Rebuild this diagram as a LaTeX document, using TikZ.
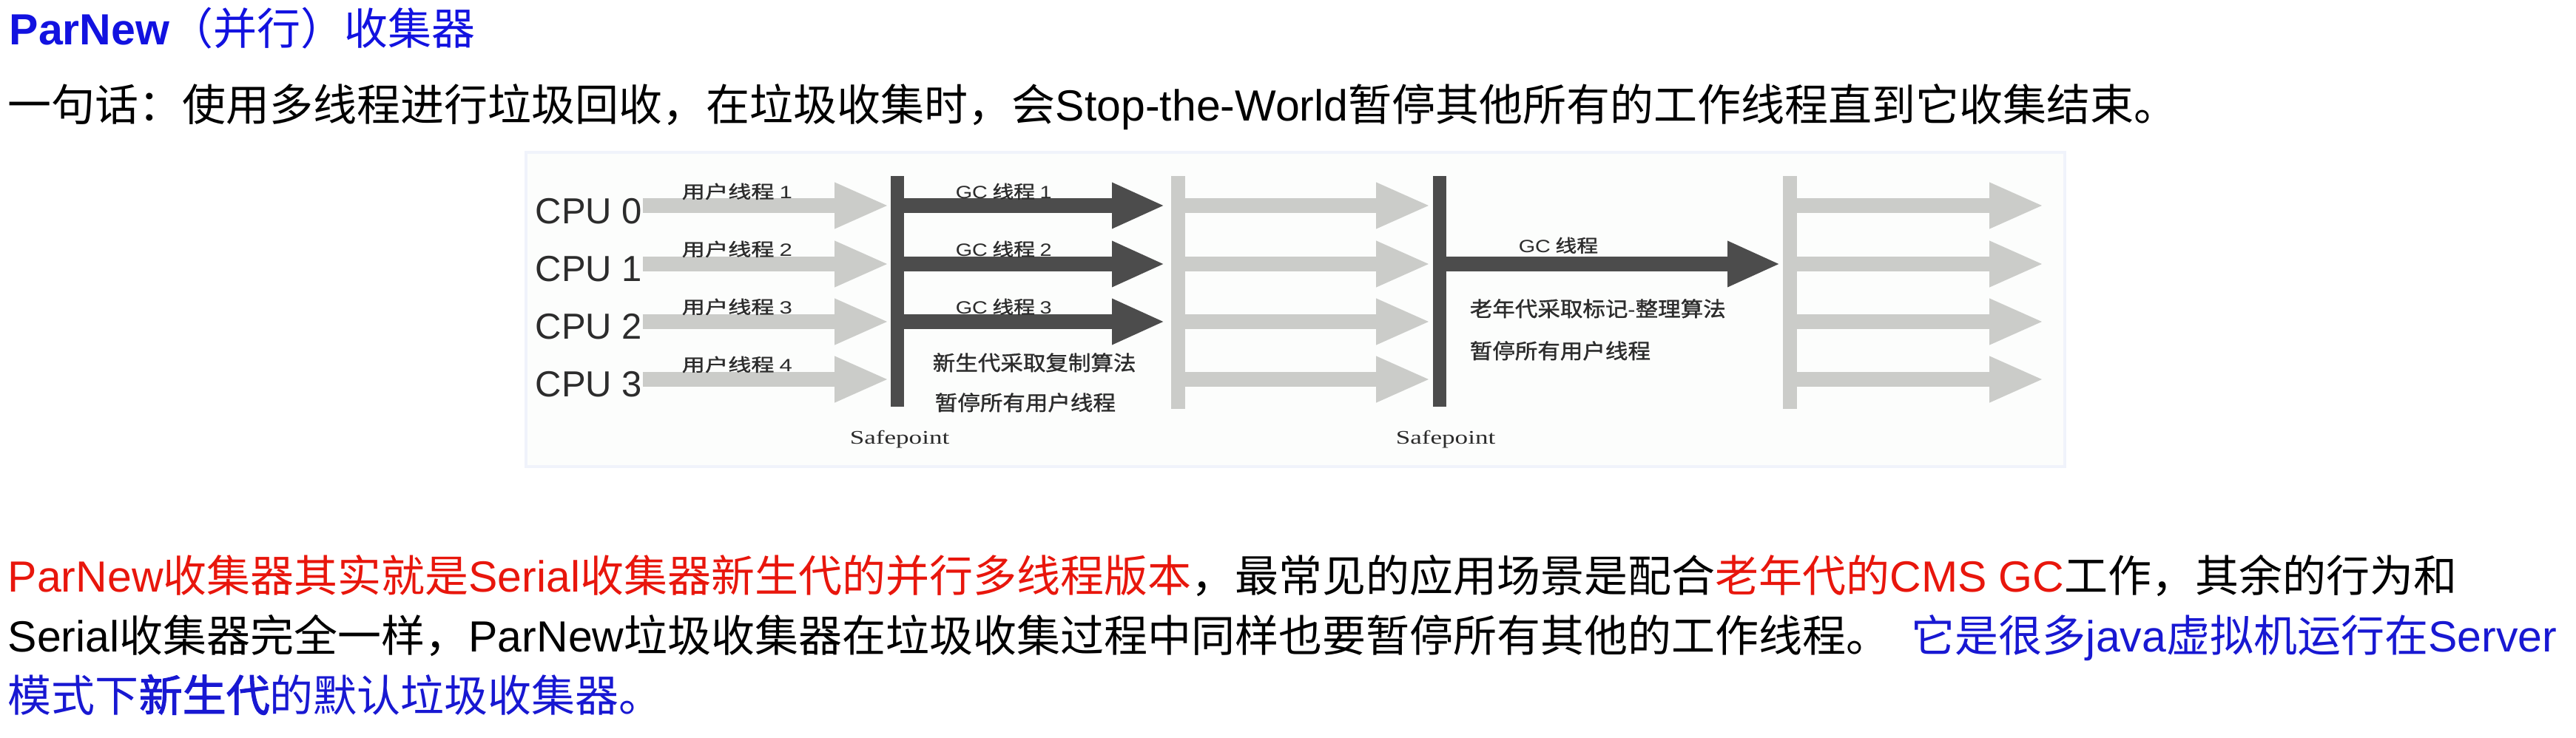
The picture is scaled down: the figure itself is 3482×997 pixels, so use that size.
\documentclass[tikz,border=0pt]{standalone}
\usepackage{fontspec}
\setmainfont{Noto Sans CJK SC}[AutoFakeBold=2]
\newfontfamily\cjkb{Noto Sans CJK SC}[FakeBold=1.2]
\newfontfamily\lat{Liberation Sans}
\newfontfamily\latser{Liberation Serif}
\usetikzlibrary{arrows.meta}
\definecolor{tblue}{RGB}{18,18,224}
\definecolor{pblue}{RGB}{24,24,210}
\definecolor{pred}{RGB}{232,22,12}
\definecolor{lgray}{RGB}{203,204,201}
\definecolor{dgray}{RGB}{76,76,76}
\definecolor{ink}{RGB}{44,44,44}
\definecolor{panelbg}{RGB}{252,253,252}
\definecolor{panelbd}{RGB}{240,243,251}
\newcommand\wider[2]{\scalebox{#1}[1]{#2}}
\tikzset{
  txt/.style={anchor=base west, inner sep=0pt, font=\fontsize{14.75pt}{17pt}\selectfont},
  cpulabel/.style={anchor=base west, inner sep=0pt, font=\lat\fontsize{12.25pt}{14pt}\selectfont, text=ink},
  thrlabel/.style={anchor=base west, inner sep=0pt, font=\cjkb\fontsize{6pt}{7pt}\selectfont, text=ink},
  notelabel/.style={anchor=base west, inner sep=0pt, font=\cjkb\fontsize{7pt}{8pt}\selectfont, text=ink},
  sflabel/.style={anchor=base west, inner sep=0pt, font=\latser\fontsize{6.5pt}{7pt}\selectfont, text=ink},
  darkbar/.style={fill=dgray, draw=none, minimum width=4.5pt, minimum height=78pt, inner sep=0pt},
  lightbar/.style={fill=lgray, draw=none, minimum width=4.75pt, minimum height=78.75pt, inner sep=0pt},
  larrow/.style={draw=lgray, line width=5pt, -{Triangle[length=18.5pt,width=14.25pt]}},
  darrow/.style={draw=dgray, line width=5pt, -{Triangle[length=18pt,width=14.25pt]}},
}
\begin{document}
\begin{tikzpicture}[x=0.25pt,y=-0.25pt]
\useasboundingbox (0,0) rectangle (3482,997);
\fill[white] (0,0) rectangle (3482,997);

% texts above
\node[txt, text=tblue] (title) at (12,60) {{\lat\bfseries ParNew}（并行）收集器};
\node[txt, text=black] (line2) at (10,163) {一句话：使用多线程进行垃圾回收，在垃圾收集时，会{\lat Stop-the-World}暂停其他所有的工作线程直到它收集结束。};

% panel
\node[draw=panelbd, fill=panelbg, line width=1pt, minimum width=520pt, minimum height=106.25pt, inner sep=0pt] (panel) at (1751,418) {};

% coordinates (arrow tips)
\coordinate (u0) at (1202,278);
\coordinate (u1) at (1202,357);
\coordinate (u2) at (1202,435);
\coordinate (u3) at (1202,513);
\coordinate (g0) at (1575,278);
\coordinate (g1) at (1575,357);
\coordinate (g2) at (1575,435);
\coordinate (m0) at (1934,278);
\coordinate (m1) at (1934,357);
\coordinate (m2) at (1934,435);
\coordinate (m3) at (1934,513);
\coordinate (o1) at (2407,357);
\coordinate (e0) at (2763,278);
\coordinate (e1) at (2763,357);
\coordinate (e2) at (2763,435);
\coordinate (e3) at (2763,513);

% CPU labels
\node[cpulabel] (cpu0) at (723,302) {CPU 0};
\node[cpulabel] (cpu1) at (723,380) {CPU 1};
\node[cpulabel] (cpu2) at (723,458) {CPU 2};
\node[cpulabel] (cpu3) at (723,536) {CPU 3};

% bars
\node[darkbar] (sp1) at (1213,394) {};
\node[lightbar] (lb1) at (1592,395) {};
\node[darkbar] (sp2) at (1946,394) {};
\node[lightbar] (lb2) at (2419,395) {};

% user thread arrows
\draw[larrow] (cpu0.east |- u0) -- (u0);
\draw[larrow] (cpu1.east |- u1) -- (u1);
\draw[larrow] (cpu2.east |- u2) -- (u2);
\draw[larrow] (cpu3.east |- u3) -- (u3);

% GC threads (parallel)
\draw[darrow] (sp1.center |- g0) -- (g0);
\draw[darrow] (sp1.center |- g1) -- (g1);
\draw[darrow] (sp1.center |- g2) -- (g2);

% resumed user threads
\draw[larrow] (lb1.center |- m0) -- (m0);
\draw[larrow] (lb1.center |- m1) -- (m1);
\draw[larrow] (lb1.center |- m2) -- (m2);
\draw[larrow] (lb1.center |- m3) -- (m3);

% old gen GC thread
\draw[darrow] (sp2.center |- o1) -- (o1);

% final user threads
\draw[larrow] (lb2.center |- e0) -- (e0);
\draw[larrow] (lb2.center |- e1) -- (e1);
\draw[larrow] (lb2.center |- e2) -- (e2);
\draw[larrow] (lb2.center |- e3) -- (e3);

% redraw bars on top
\node[darkbar] at (sp1) {};
\node[lightbar] at (lb1) {};
\node[darkbar] at (sp2) {};
\node[lightbar] at (lb2) {};

% thread labels
\node[thrlabel] (ut1) at (921,268) {\wider{1.3}{用户线程 {\lat 1}}};
\node[thrlabel] (ut2) at (921,346) {\wider{1.3}{用户线程 {\lat 2}}};
\node[thrlabel] (ut3) at (921,424) {\wider{1.3}{用户线程 {\lat 3}}};
\node[thrlabel] (ut4) at (921,502) {\wider{1.3}{用户线程 {\lat 4}}};
\node[thrlabel] (gt1) at (1291,268) {\wider{1.2}{{\lat GC} 线程 {\lat 1}}};
\node[thrlabel] (gt2) at (1291,346) {\wider{1.2}{{\lat GC} 线程 {\lat 2}}};
\node[thrlabel] (gt3) at (1291,424) {\wider{1.2}{{\lat GC} 线程 {\lat 3}}};
\node[thrlabel] (gto) at (2052,341) {\wider{1.2}{{\lat GC} 线程}};

\node[notelabel] (n1) at (1260,501) {\wider{1.09}{新生代采取复制算法}};
\node[notelabel] (n2) at (1263,555) {\wider{1.09}{暂停所有用户线程}};
\node[notelabel] (n3) at (1986,428) {\wider{1.09}{老年代采取标记{\lat -}整理算法}};
\node[notelabel] (n4) at (1986,485) {\wider{1.09}{暂停所有用户线程}};

\node[sflabel] (sf1) at (1148,600) {\wider{1.35}{Safepoint}};
\node[sflabel] (sf2) at (1886,600) {\wider{1.35}{Safepoint}};

% paragraph
\node[txt, text=black] (p1) at (10,800) {{\color{pred}{\lat ParNew}收集器其实就是{\lat Serial}收集器新生代的并行多线程版本}，最常见的应用场景是配合{\color{pred}老年代的{\lat CMS GC}}工作，其余的行为和};
\node[txt, text=black] (p2) at (10,881) {{\lat Serial}收集器完全一样，{\lat ParNew}垃圾收集器在垃圾收集过程中同样也要暂停所有其他的工作线程。\hspace{0.5em}{\color{pblue}它是很多{\lat java}虚拟机运行在{\lat Server}}};
\node[txt, text=pblue] (p3) at (10,962) {模式下\textbf{新生代}的默认垃圾收集器。};
\end{tikzpicture}
\end{document}
